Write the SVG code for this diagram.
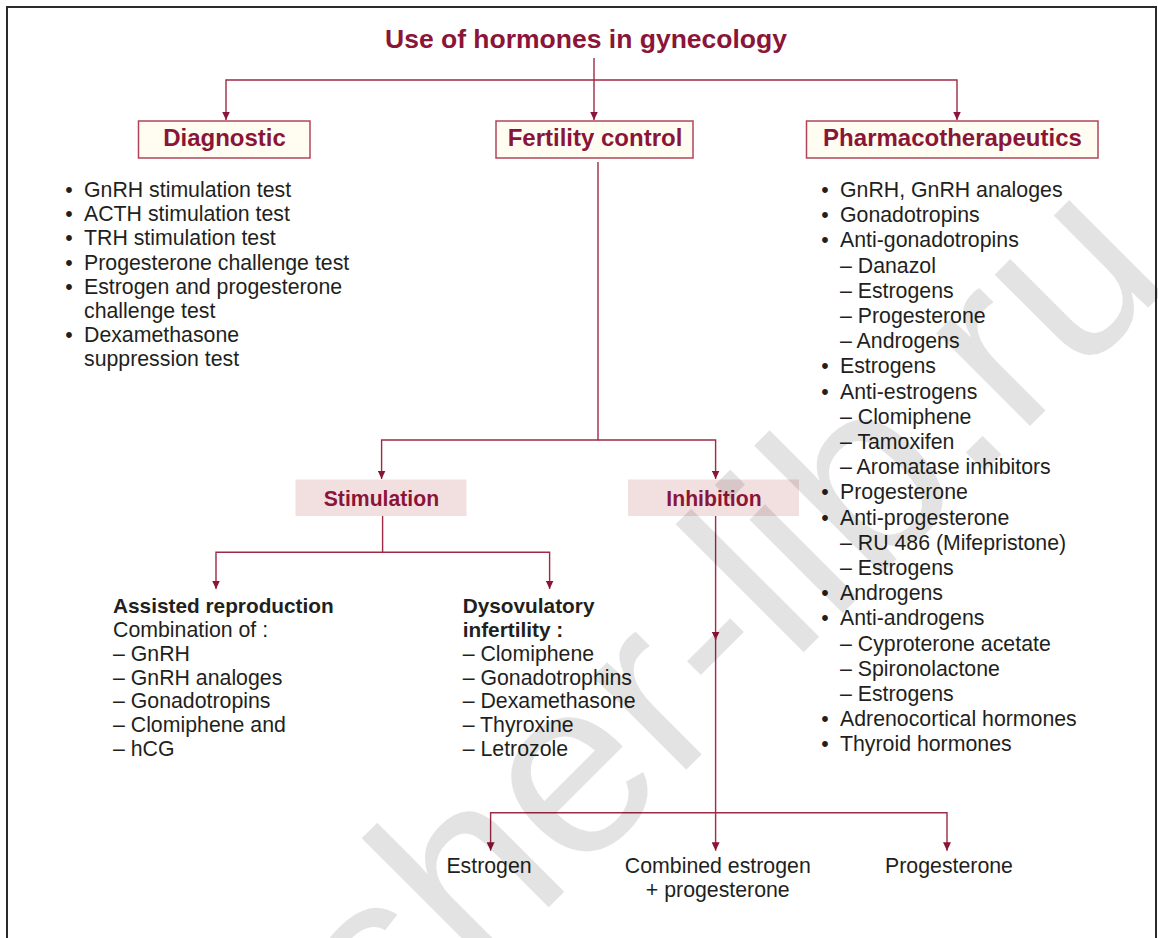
<svg xmlns="http://www.w3.org/2000/svg" width="1158" height="938" viewBox="0 0 1158 938">
<style>
  .title{font-family:"Liberation Sans",Arial,sans-serif;font-weight:bold;font-size:26.5px;fill:#8b1538;text-anchor:middle}
  .hd{font-family:"Liberation Sans",Arial,sans-serif;font-weight:bold;font-size:24px;fill:#8b1538;text-anchor:middle}
  .sub{font-family:"Liberation Sans",Arial,sans-serif;font-weight:bold;font-size:21.2px;fill:#8b1538;text-anchor:middle}
  .box{fill:#fffdf1;stroke:#b04558;stroke-width:1.5}
  .pbox{fill:#f2e0e1;stroke:none}
  .t{font-family:"Liberation Sans",Arial,sans-serif;font-size:21.3px;fill:#231f20}
  .b{font-family:"Liberation Sans",Arial,sans-serif;font-size:20.8px;font-weight:bold;fill:#231f20}
  .c{text-anchor:middle}
  .ln{fill:none;stroke:#9e2a45;stroke-width:1.4}
  .wm{font-family:"Liberation Sans",Arial,sans-serif;font-size:250px;fill:#000;fill-opacity:0.11}
</style>
<defs>
  <marker id="ah" markerWidth="9" markerHeight="8" refX="8.5" refY="4" orient="auto" markerUnits="userSpaceOnUse">
    <path d="M0,0 L8.5,4 L0,8 z" fill="#8b1538"/>
  </marker>
</defs>
<rect x="0" y="0" width="1158" height="938" fill="#fff"/>
<rect x="7" y="7" width="1149" height="950" fill="none" stroke="#2b2b2b" stroke-width="2"/>

<g id="title"><text class="title" x="586" y="48">Use of hormones in gynecology</text></g>

<g id="connectors">
  <path class="ln" d="M594,58 V120" marker-end="url(#ah)"/>
  <path class="ln" d="M594,80 H226 V120" marker-end="url(#ah)"/>
  <path class="ln" d="M594,80 H957 V120" marker-end="url(#ah)"/>
  <path class="ln" d="M598,162 V440 H381.6 V479" marker-end="url(#ah)"/>
  <path class="ln" d="M598,440 H715.6 V479" marker-end="url(#ah)"/>
  <path class="ln" d="M382.6,516 V552.3 H216 V589" marker-end="url(#ah)"/>
  <path class="ln" d="M382.6,552.3 H549.6 V589" marker-end="url(#ah)"/>
  <path class="ln" d="M715.6,516 V640" marker-end="url(#ah)"/>
  <path class="ln" d="M715.6,636 V850.7" marker-end="url(#ah)"/>
  <path class="ln" d="M715.6,812.7 H490.6 V850.7" marker-end="url(#ah)"/>
  <path class="ln" d="M715.6,812.7 H947 V850.7" marker-end="url(#ah)"/>
</g>

<g id="diagnostic">
  <rect class="box" x="138.5" y="121" width="171.5" height="37"/>
  <text class="hd" x="224.5" y="146">Diagnostic</text>
</g>
<g id="fertility-control">
  <rect class="box" x="496" y="121" width="197" height="37"/>
  <text class="hd" x="595" y="146">Fertility control</text>
</g>
<g id="pharmacotherapeutics">
  <rect class="box" x="806.5" y="121" width="291.5" height="37"/>
  <text class="hd" x="952.5" y="146">Pharmacotherapeutics</text>
</g>

<g id="diagnostic-list" class="t">
  <text x="69" y="197" class="c">•</text><text x="84" y="197">GnRH stimulation test</text>
  <text x="69" y="221.2" class="c">•</text><text x="84" y="221.2">ACTH stimulation test</text>
  <text x="69" y="245.4" class="c">•</text><text x="84" y="245.4">TRH stimulation test</text>
  <text x="69" y="269.6" class="c">•</text><text x="84" y="269.6">Progesterone challenge test</text>
  <text x="69" y="293.8" class="c">•</text><text x="84" y="293.8">Estrogen and progesterone</text>
  <text x="84" y="318">challenge test</text>
  <text x="69" y="342.2" class="c">•</text><text x="84" y="342.2">Dexamethasone</text>
  <text x="84" y="366.4">suppression test</text>
</g>

<g id="pharmaco-list" class="t">
  <text x="825" y="197" class="c">•</text><text x="840" y="197">GnRH, GnRH analoges</text>
  <text x="825" y="222.2" class="c">•</text><text x="840" y="222.2">Gonadotropins</text>
  <text x="825" y="247.4" class="c">•</text><text x="840" y="247.4">Anti-gonadotropins</text>
  <text x="840" y="272.6">– Danazol</text>
  <text x="840" y="297.8">– Estrogens</text>
  <text x="840" y="323">– Progesterone</text>
  <text x="840" y="348.2">– Androgens</text>
  <text x="825" y="373.4" class="c">•</text><text x="840" y="373.4">Estrogens</text>
  <text x="825" y="398.6" class="c">•</text><text x="840" y="398.6">Anti-estrogens</text>
  <text x="840" y="423.8">– Clomiphene</text>
  <text x="840" y="449">– Tamoxifen</text>
  <text x="840" y="474.2">– Aromatase inhibitors</text>
  <text x="825" y="499.4" class="c">•</text><text x="840" y="499.4">Progesterone</text>
  <text x="825" y="524.6" class="c">•</text><text x="840" y="524.6">Anti-progesterone</text>
  <text x="840" y="549.8">– RU 486 (Mifepristone)</text>
  <text x="840" y="575">– Estrogens</text>
  <text x="825" y="600.2" class="c">•</text><text x="840" y="600.2">Androgens</text>
  <text x="825" y="625.4" class="c">•</text><text x="840" y="625.4">Anti-androgens</text>
  <text x="840" y="650.6">– Cyproterone acetate</text>
  <text x="840" y="675.8">– Spironolactone</text>
  <text x="840" y="701">– Estrogens</text>
  <text x="825" y="726.2" class="c">•</text><text x="840" y="726.2">Adrenocortical hormones</text>
  <text x="825" y="751.4" class="c">•</text><text x="840" y="751.4">Thyroid hormones</text>
</g>

<g id="stimulation">
  <rect class="pbox" x="295.5" y="479.5" width="171" height="36.5"/>
  <text class="sub" x="381.4" y="505.5">Stimulation</text>
</g>
<g id="inhibition">
  <rect class="pbox" x="628" y="479.5" width="171" height="36.5"/>
  <text class="sub" x="714" y="505.5">Inhibition</text>
</g>

<g id="assisted-reproduction">
  <text class="b" x="113" y="613.3">Assisted reproduction</text>
  <text class="t" x="113" y="637">Combination of :</text>
  <text class="t" x="113" y="660.8">– GnRH</text>
  <text class="t" x="113" y="684.6">– GnRH analoges</text>
  <text class="t" x="113" y="708.4">– Gonadotropins</text>
  <text class="t" x="113" y="732.2">– Clomiphene and</text>
  <text class="t" x="113" y="756">– hCG</text>
</g>

<g id="dysovulatory-infertility">
  <text class="b" x="462.7" y="613.3">Dysovulatory</text>
  <text class="b" x="462.7" y="637">infertility :</text>
  <text class="t" x="462.7" y="660.8">– Clomiphene</text>
  <text class="t" x="462.7" y="684.6">– Gonadotrophins</text>
  <text class="t" x="462.7" y="708.4">– Dexamethasone</text>
  <text class="t" x="462.7" y="732.2">– Thyroxine</text>
  <text class="t" x="462.7" y="756">– Letrozole</text>
</g>

<g id="estrogen"><text class="t c" x="489" y="873.3">Estrogen</text></g>
<g id="combined"><text class="t c" x="717.8" y="873.3">Combined estrogen</text><text class="t c" x="717.8" y="897.3">+ progesterone</text></g>
<g id="progesterone"><text class="t c" x="949" y="873.3">Progesterone</text></g>

<text class="wm" x="389" y="1067" transform="rotate(-45 389 1067)">sher-lib.ru</text>
</svg>
